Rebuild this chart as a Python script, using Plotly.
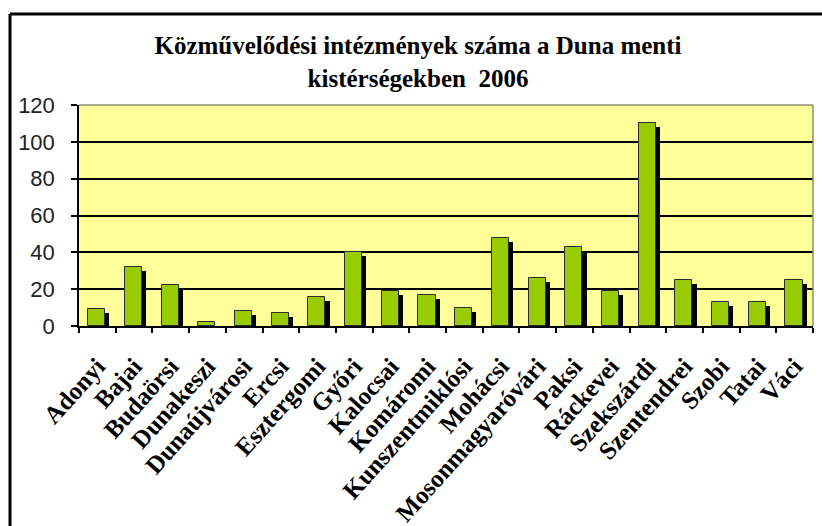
import plotly.graph_objects as go

# Közművelődési intézmények száma kistérségenként (2006)
kisterseg = [
    "Adonyi", "Bajai", "Budaörsi", "Dunakeszi", "Dunaújvárosi", "Ercsi",
    "Esztergomi", "Győri", "Kalocsai", "Komáromi", "Kunszentmiklósi",
    "Mohácsi", "Mosonmagyaróvári", "Paksi", "Ráckevei", "Szekszárdi",
    "Szentendrei", "Szobi", "Tatai", "Váci",
]
intezmenyek = [9, 32, 22, 2, 8, 7, 16, 40, 19, 17, 10, 48, 26, 43, 19, 110, 25, 13, 13, 25]

y_ticks = [0, 20, 40, 60, 80, 100, 120]

W, H = 822, 526
ML, MR, MT, MB = 79, 9, 105, 200
PW, PH = W - ML - MR, H - MT - MB

# side face of the pseudo-3D columns: a dark slab slightly lower than the face
SHADOW_DROP = 2.2
arnyek = [max(v - SHADOW_DROP, 0) for v in intezmenyek]

fig = go.Figure()
fig.add_trace(go.Bar(
    x=kisterseg, y=arnyek, width=0.47, offset=-0.14,
    marker=dict(color="#000000", line=dict(width=0)),
    hoverinfo="skip", showlegend=False,
))
fig.add_trace(go.Bar(
    x=kisterseg, y=intezmenyek, width=0.465, offset=-0.25,
    marker=dict(color="#99CC00", line=dict(color="#2a2a2a", width=1)),
    showlegend=False,
))


def px_x(p):
    return (p - ML) / PW


def px_y(p):
    return (H - MB - p) / PH


fig.update_layout(
    width=W, height=H,
    margin=dict(l=ML, r=MR, t=MT, b=MB, pad=0),
    paper_bgcolor="white",
    plot_bgcolor="#FFFF99",
    barmode="overlay",
    bargap=0,
    title=dict(
        text="Közművelődési intézmények száma a Duna menti<br>kistérségekben  2006",
        font=dict(family="Liberation Serif", size=25, color="black", weight="bold"),
        xref="container", x=418 / W, xanchor="center",
        yref="container", y=1 - 54 / H, yanchor="top",
    ),
    xaxis=dict(
        type="category",
        tickangle=-48,
        tickson="boundaries",
        ticks="outside", ticklen=5, tickcolor="black", tickwidth=1.5,
        ticklabelstandoff=14,
        showline=True, linecolor="black", linewidth=1.5,
        showgrid=False,
        tickfont=dict(family="Liberation Serif", size=25, color="black", weight="bold"),
        range=[-0.5, len(kisterseg) - 0.5],
        automargin=False,
    ),
    yaxis=dict(
        range=[0, 120],
        tickvals=y_ticks,
        ticks="outside", ticklen=6, tickcolor="black", tickwidth=1.5,
        ticklabelstandoff=12,
        showline=True, linecolor="black", linewidth=1.5,
        showgrid=True, gridcolor="black", gridwidth=1.5,
        zeroline=False,
        tickfont=dict(family="Liberation Sans", size=22, color="#222222"),
        automargin=False,
    ),
    shapes=[
        # top and right edges of the plot area
        dict(type="line", xref="paper", yref="paper", x0=0, x1=1, y0=1, y1=1,
             line=dict(color="#8c8c70", width=1.5), layer="above"),
        dict(type="line", xref="paper", yref="paper", x0=1, x1=1, y0=0, y1=1,
             line=dict(color="#8c8c70", width=1.5), layer="above"),
        # outer chart frame (top and left edges)
        dict(type="line", xref="paper", yref="paper",
             x0=px_x(10), x1=px_x(W), y0=px_y(14), y1=px_y(14),
             line=dict(color="black", width=3), layer="above"),
        dict(type="line", xref="paper", yref="paper",
             x0=px_x(10), x1=px_x(10), y0=px_y(14), y1=px_y(H),
             line=dict(color="black", width=3), layer="above"),
    ],
)

fig.write_html(
    "out.html",
    post_script="document.body.style.margin='0';document.body.style.overflow='hidden';",
)
